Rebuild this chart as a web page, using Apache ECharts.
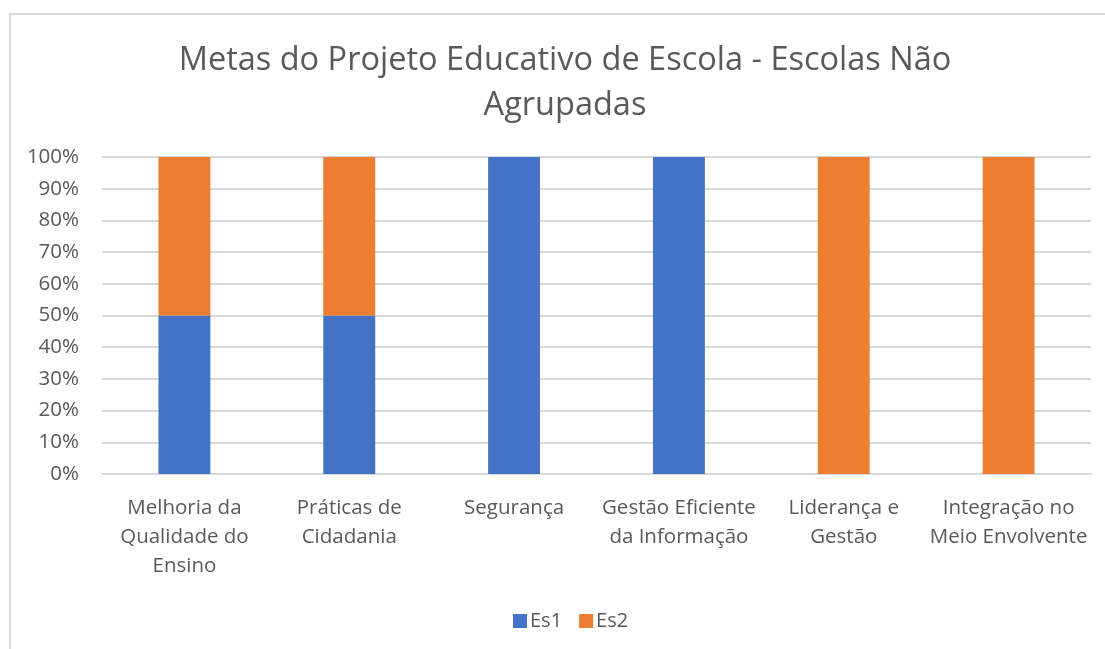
<!DOCTYPE html>
<html>
<head>
<meta charset="utf-8">
<script src="https://cdn.jsdelivr.net/npm/echarts@6/dist/echarts.min.js"></script>
<style>
  html, body { margin: 0; padding: 0; background: #fff; overflow: hidden; }
  #frame { position: absolute; left: 9px; top: 13px; width: 1300px; height: 800px;
           border-left: 2px solid #d9d9d9; border-top: 2px solid #d9d9d9; }
  #chart { position: absolute; left: 0; top: 0; width: 1105px; height: 649px; }
</style>
</head>
<body>
<div id="frame"></div>
<div id="chart"></div>
<script>
// Goals of the school educational project, share per school
const categories = [
  'Melhoria da\nQualidade do\nEnsino',
  'Práticas de\nCidadania',
  'Segurança',
  'Gestão Eficiente\nda Informação',
  'Liderança e\nGestão',
  'Integração no\nMeio Envolvente'
];
const es1 = [50, 50, 100, 100, 0, 0];
const es2 = [50, 50, 0, 0, 100, 100];
const seriesNames = ['Es1', 'Es2'];
const titleText = 'Metas do Projeto Educativo de Escola - Escolas Não\nAgrupadas';

const FONT = '"Open Sans", "Noto Sans", sans-serif';
const TEXT = '#595959';

const chart = echarts.init(document.getElementById('chart'), null, { renderer: 'canvas' });
chart.setOption({
  backgroundColor: 'transparent',
  animation: false,
  title: {
    text: titleText,
    left: 560,
    top: 33,
    textAlign: 'center',
    textStyle: { fontFamily: FONT, fontSize: 32.5, fontWeight: 'normal', color: TEXT, lineHeight: 45 }
  },
  legend: {
    data: seriesNames,
    left: 508,
    top: 606,
    icon: 'rect',
    itemWidth: 14,
    itemHeight: 14,
    itemGap: 17,
    textStyle: { fontFamily: FONT, fontSize: 20, color: TEXT, padding: [0, 0, 0, -2] }
  },
  grid: { left: 102, right: 14, top: 157, bottom: 175, containLabel: false },
  xAxis: {
    type: 'category',
    data: categories,
    axisLine: { lineStyle: { color: '#d9d9d9', width: 2 } },
    axisTick: { show: false },
    axisLabel: {
      interval: 0, margin: 20, fontFamily: FONT, fontSize: 20.5, color: TEXT, lineHeight: 29
    }
  },
  yAxis: {
    type: 'value',
    min: 0, max: 100, interval: 10,
    axisLine: { show: false },
    axisTick: { show: false },
    splitLine: { lineStyle: { color: '#d9d9d9', width: 2 } },
    axisLabel: { formatter: '{value}%', margin: 23, fontFamily: FONT, fontSize: 20.5, color: TEXT }
  },
  series: [
    { name: seriesNames[0], type: 'bar', stack: 'total', data: es1, barWidth: '31.5%',
      itemStyle: { color: '#4472C4' } },
    { name: seriesNames[1], type: 'bar', stack: 'total', data: es2, barWidth: '31.5%',
      itemStyle: { color: '#ED7D31' } }
  ]
});
</script>
</body>
</html>
